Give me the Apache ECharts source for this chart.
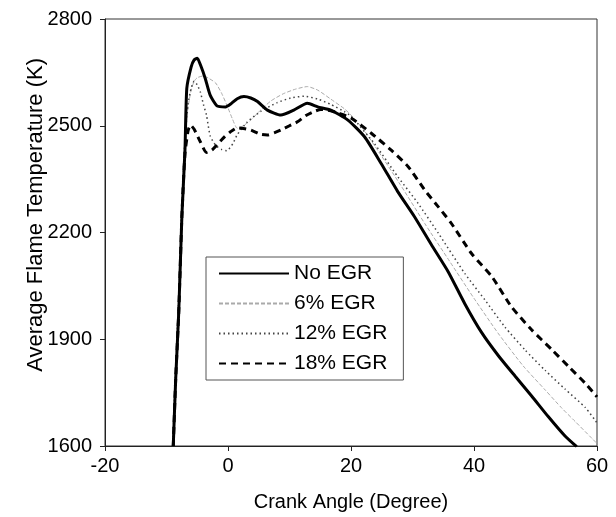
<!DOCTYPE html>
<html>
<head>
<meta charset="utf-8">
<script src="https://cdn.jsdelivr.net/npm/echarts@6/dist/echarts.min.js"></script>
<style>
html,body{margin:0;padding:0;background:#fff;}
#chart{width:616px;height:517px;}
</style>
</head>
<body>
<div id="chart"></div>
<script>
// ---- data ----
var seriesNames = ["No EGR", "6% EGR", "12% EGR", "18% EGR"];
var xTicks = [-20, 0, 20, 40, 60];
var yTicks = [1600, 1900, 2200, 2500, 2800];

var noEgrX = [-8.9, -8.5, -8.0, -7.5, -7.0, -6.7, -6.0, -5.5, -5.0, -4.5, -3.7, -2.9, -1.8, -0.4, 0.5, 1.5, 2.6, 3.7, 4.8, 6.4, 8.6, 10.7, 12.9, 14.6, 16.7, 19.5, 22.2, 24.9, 27.6, 30.3, 33.1, 35.8, 38.5, 41.2, 44.0, 46.7, 49.4, 52.1, 54.8, 56.7];
var noEgrT = [1600, 1790, 1980, 2245, 2430, 2605, 2665, 2685, 2690, 2672, 2633, 2586, 2556, 2553, 2562, 2576, 2582, 2578, 2568, 2544, 2530, 2544, 2563, 2553, 2544, 2516, 2469, 2394, 2315, 2245, 2165, 2090, 2000, 1920, 1853, 1796, 1740, 1682, 1628, 1598];

var egr6X = [-9.0, -8.5, -8.0, -7.5, -7.0, -6.5, -6.0, -5.5, -5.0, -4.0, -3.0, -2.0, -1.0, 0.0, 0.7, 1.5, 2.5, 3.7, 5.3, 7.0, 9.0, 11.0, 12.9, 14.6, 16.7, 18.9, 20.0, 22.0, 24.0, 28.0, 32.0, 36.0, 40.0, 44.0, 48.0, 51.6, 54.3, 56.5, 59.2, 60.0];
var egr6T = [1600, 1810, 2010, 2270, 2450, 2550, 2600, 2625, 2635, 2640, 2632, 2620, 2590, 2550, 2520, 2493, 2500, 2516, 2544, 2570, 2590, 2603, 2610, 2600, 2575, 2548, 2530, 2490, 2440, 2335, 2225, 2120, 2015, 1915, 1825, 1757, 1706, 1668, 1621, 1607];

var egr12X = [-9.0, -8.5, -8.0, -7.5, -7.0, -6.5, -6.0, -5.5, -5.0, -4.5, -4.0, -3.5, -2.9, -2.0, -1.0, -0.2, 0.8, 1.5, 3.1, 5.3, 8.0, 10.2, 12.4, 14.6, 16.7, 18.9, 20.0, 23.8, 27.6, 30.9, 34.2, 38.5, 41.8, 45.0, 48.3, 51.6, 54.8, 58.1, 60.0];
var egr12T = [1600, 1820, 2020, 2280, 2460, 2560, 2605, 2625, 2615, 2595, 2560, 2530, 2472, 2445, 2433, 2430, 2450, 2475, 2510, 2540, 2565, 2578, 2583, 2575, 2560, 2540, 2527, 2450, 2357, 2282, 2198, 2085, 2010, 1935, 1870, 1812, 1760, 1708, 1665];

var egr18X = [-8.9, -8.5, -8.0, -7.5, -7.0, -6.5, -6.1, -5.5, -4.5, -3.5, -2.6, -1.8, -0.5, 0.4, 1.5, 2.5, 3.7, 5.3, 6.4, 7.5, 8.6, 10.0, 11.3, 12.6, 14.0, 15.1, 16.7, 18.0, 20.0, 23.3, 26.5, 29.3, 32.0, 34.2, 36.3, 39.6, 42.9, 46.1, 49.4, 52.7, 55.4, 58.1, 60.0];
var egr18T = [1600, 1790, 1980, 2245, 2420, 2485, 2502, 2490, 2455, 2425, 2432, 2446, 2470, 2483, 2494, 2492, 2488, 2476, 2474, 2480, 2488, 2500, 2511, 2528, 2540, 2546, 2542, 2535, 2522, 2479, 2432, 2385, 2319, 2272, 2226, 2141, 2076, 1991, 1926, 1870, 1823, 1776, 1738];

function zip(xs, ys) { return xs.map(function (x, i) { return [x, ys[i]]; }); }

var chart = echarts.init(document.getElementById('chart'), null, {renderer: 'canvas'});
var font = 'Liberation Sans, Arial, sans-serif';

var option = {
  backgroundColor: '#fff',
  animation: false,
  grid: {left: 105, right: 19, top: 19, bottom: 71, show: true, borderColor: '#333', borderWidth: 1},
  xAxis: {
    type: 'value', min: xTicks[0], max: xTicks[xTicks.length - 1], interval: 20,
    axisLine: {show: true, onZero: false, lineStyle: {color: '#222', width: 1}},
    axisTick: {show: true, length: 5, lineStyle: {color: '#222'}},
    splitLine: {show: false},
    axisLabel: {color: '#000', fontSize: 20, fontFamily: font, margin: 10},
    name: 'Crank Angle (Degree)', nameLocation: 'middle', nameGap: 46,
    nameTextStyle: {color: '#000', fontSize: 20, fontFamily: font}
  },
  yAxis: {
    type: 'value', min: yTicks[0], max: yTicks[yTicks.length - 1], interval: 300,
    axisLine: {show: true, onZero: false, lineStyle: {color: '#222', width: 1}},
    axisTick: {show: true, length: 5, lineStyle: {color: '#222'}},
    splitLine: {show: false},
    axisLabel: {color: '#000', fontSize: 20, fontFamily: font, margin: 13,
      formatter: function (v) { return String(v); }}
  },
  graphic: [{
    type: 'text', left: 25, top: 58, rotation: Math.PI / 2,
    style: {text: 'Average Flame Temperature (K)', fill: '#000', font: '22px ' + font}
  }],
  legend: {
    left: 206, top: 257, orient: 'vertical',
    borderColor: '#555', borderWidth: 1, backgroundColor: '#fff',
    padding: [6, 16, 6, 12], itemWidth: 70, itemHeight: 20, itemGap: 9,
    itemStyle: {color: 'rgba(0,0,0,0)', borderColor: 'rgba(0,0,0,0)', borderWidth: 0, opacity: 0},
    textStyle: {color: '#000', fontSize: 21, fontFamily: font},
    data: seriesNames
  },
  series: [
    {name: seriesNames[0], type: 'line', data: zip(noEgrX, noEgrT), showSymbol: false, symbol: 'none',
     smooth: 0.2, lineStyle: {color: '#000', width: 3}, itemStyle: {color: '#000'}, z: 5},
    {name: seriesNames[1], type: 'line', data: zip(egr6X, egr6T), showSymbol: false, symbol: 'none',
     smooth: 0.2, lineStyle: {color: '#aaa', width: 1, type: [4, 2]}, itemStyle: {color: '#aaa'}, z: 2},
    {name: seriesNames[2], type: 'line', data: zip(egr12X, egr12T), showSymbol: false, symbol: 'none',
     smooth: 0.2, lineStyle: {color: '#444', width: 1.5, type: [1.5, 3]}, itemStyle: {color: '#444'}, z: 3},
    {name: seriesNames[3], type: 'line', data: zip(egr18X, egr18T), showSymbol: false, symbol: 'none',
     smooth: 0.2, lineStyle: {color: '#000', width: 3, type: [7, 5]}, itemStyle: {color: '#000'}, z: 4}
  ]
};
chart.setOption(option);
</script>
</body>
</html>
